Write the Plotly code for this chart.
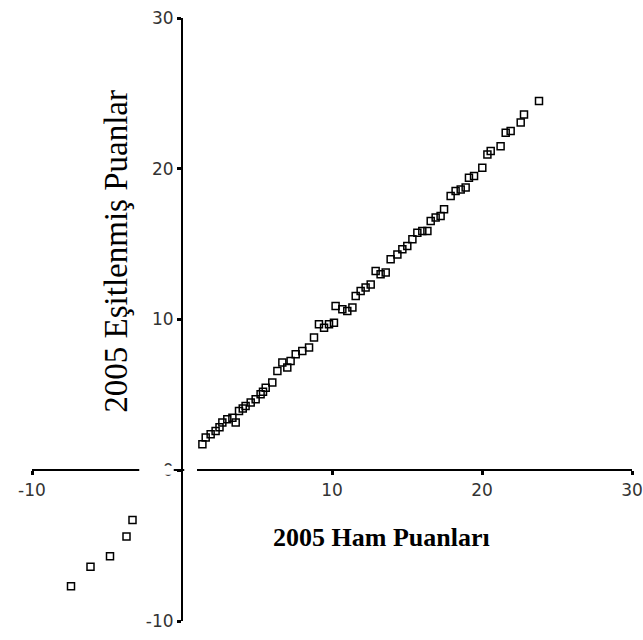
import plotly.graph_objects as go

# 2005 raw scores (x) vs 2005 equated scores (y)
ham_puan = [-7.4, -6.1, -4.8, -3.7, -3.3,
            1.36, 1.58, 1.91, 2.24, 2.5, 2.69, 3.02, 3.36, 3.58, 3.8, 4.05, 4.24, 4.58,
            4.91, 5.24, 5.4, 5.58, 6.02, 6.36, 6.69, 7.02, 7.24, 7.58, 8.02, 8.47,
            8.8, 9.13, 9.47, 9.8, 10.13, 10.24, 10.69, 11.02, 11.36, 11.58, 11.91,
            12.24, 12.58, 12.91, 13.24, 13.58, 13.91, 14.36, 14.69, 15.02, 15.36,
            15.69, 16.02, 16.36, 16.58, 16.91, 17.24, 17.47, 17.91, 18.24, 18.58,
            18.91, 19.13, 19.47, 20.02, 20.36, 20.58, 21.24, 21.58, 21.91, 22.58,
            22.8, 23.8]
esit_puan = [-7.7, -6.4, -5.7, -4.4, -3.3,
             1.72, 2.17, 2.39, 2.61, 2.85, 3.16, 3.38, 3.49, 3.16, 3.93, 4.1, 4.26, 4.49,
             4.71, 5.04, 5.2, 5.48, 5.82, 6.59, 7.14, 6.81, 7.25, 7.69, 7.91, 8.14,
             8.8, 9.68, 9.46, 9.68, 9.79, 10.9, 10.68, 10.56, 10.79, 11.56, 11.89,
             12.12, 12.33, 13.22, 13.0, 13.11, 13.99, 14.32, 14.66, 14.87, 15.32,
             15.76, 15.87, 15.87, 16.53, 16.76, 16.86, 17.31, 18.19, 18.52, 18.63,
             18.75, 19.41, 19.52, 20.07, 20.95, 21.17, 21.5, 22.39, 22.5, 23.06,
             23.6, 24.49]

x_ticks = [-10, 10, 20, 30]
y_ticks = [-10, 0, 10, 20, 30]
axis_range = [-10, 30]

x_title = "2005 Ham Puanları"
y_title = "2005 Eşitlenmiş Puanlar"

fig = go.Figure()
fig.add_trace(go.Scatter(
    x=ham_puan, y=esit_puan, mode="markers",
    marker=dict(symbol="square-open", size=7, color="black",
                line=dict(width=1.5, color="black")),
    showlegend=False, hoverinfo="skip", cliponaxis=False))

# fraction where 0 sits on each axis
zero_frac = (0 - axis_range[0]) / (axis_range[1] - axis_range[0])

tickfont = dict(family="DejaVu Sans, Arial, sans-serif", size=17, color="#333")

fig.update_layout(
    width=643, height=640,
    margin=dict(l=32, r=11, t=18, b=19),
    paper_bgcolor="white", plot_bgcolor="white",
    xaxis=dict(range=axis_range, domain=[0, 1], anchor="free", position=zero_frac,
               tickvals=x_ticks, ticktext=[str(v) for v in x_ticks],
               showline=True, linecolor="black", linewidth=2,
               ticks="outside", ticklen=4, tickwidth=3, tickcolor="black",
               showgrid=False, zeroline=False, tickfont=tickfont, automargin=False),
    yaxis=dict(range=axis_range, domain=[0, 1], anchor="free", position=zero_frac,
               tickvals=y_ticks, ticktext=[str(v) for v in y_ticks],
               showline=True, linecolor="black", linewidth=2,
               ticks="outside", ticklen=4, tickwidth=3, tickcolor="black",
               showgrid=False, zeroline=False, tickfont=tickfont, automargin=False),
    annotations=[
        dict(text=x_title, xref="x", yref="y", x=13.3, y=-4.45, showarrow=False,
             font=dict(family="Liberation Serif, Times New Roman, serif", size=26,
                       color="black", weight="bold")),
        dict(text=y_title, xref="x", yref="y", x=-4.4, y=14.5, showarrow=False,
             textangle=-90,
             font=dict(family="Liberation Serif, Times New Roman, serif", size=33,
                       color="black")),
    ],
    shapes=[
        dict(type="rect", xref="x", yref="y", x0=-2.85, x1=-0.55, y0=-0.3, y1=0.3,
             fillcolor="white", line=dict(width=0), layer="above"),
        dict(type="rect", xref="x", yref="y", x0=0.15, x1=1.0, y0=-0.3, y1=0.3,
             fillcolor="white", line=dict(width=0), layer="above"),
    ],
)

fig.write_html("out.html", config={"displayModeBar": False},
               post_script="document.body.style.margin='0';document.body.style.overflow='hidden';")
